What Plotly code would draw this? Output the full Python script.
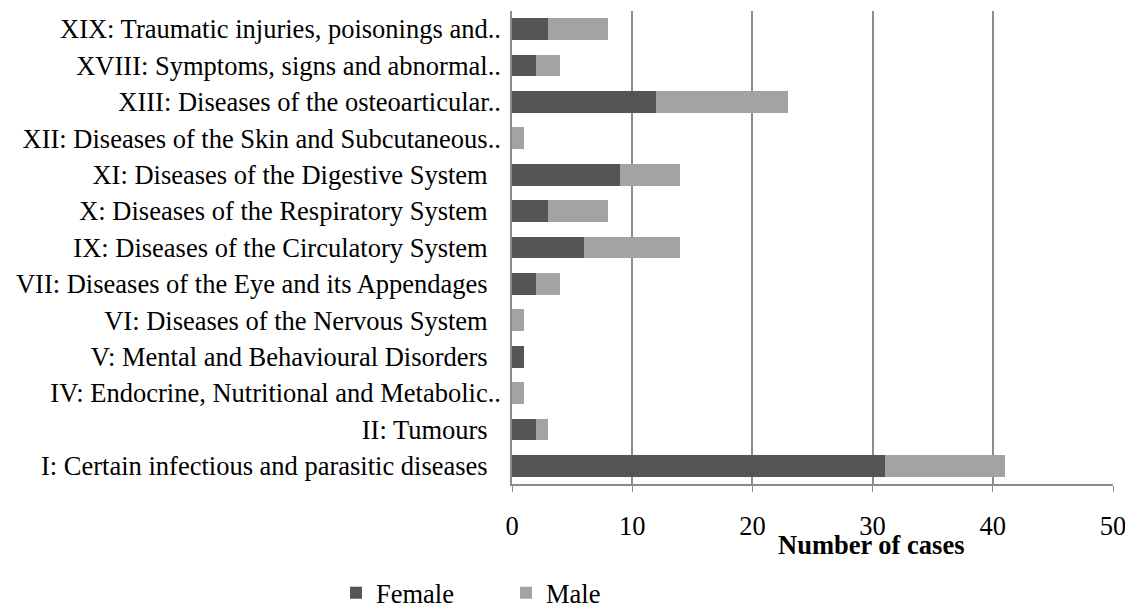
import plotly.graph_objects as go

categories = [
    "I: Certain infectious and parasitic diseases",
    "II: Tumours",
    "IV: Endocrine, Nutritional and Metabolic..",
    "V: Mental and Behavioural Disorders",
    "VI: Diseases of the Nervous System",
    "VII: Diseases of the Eye and its Appendages",
    "IX: Diseases of the Circulatory System",
    "X: Diseases of the Respiratory System",
    "XI: Diseases of the Digestive System",
    "XII: Diseases of the Skin and Subcutaneous..",
    "XIII: Diseases of the osteoarticular..",
    "XVIII: Symptoms, signs and abnormal..",
    "XIX: Traumatic injuries, poisonings and..",
]
female = [31, 2, 0, 1, 0, 2, 6, 3, 9, 0, 12, 2, 3]
male = [10, 1, 1, 0, 1, 2, 8, 5, 5, 1, 11, 2, 5]
x_ticks = [0, 10, 20, 30, 40, 50]

FONT = "Liberation Serif, Times New Roman, serif"
FS = 26.5

# page body has an 8px margin; compensate so the plot lands where the reference has it
OFF = 8
W, H = 1133 - OFF, 612 - OFF
PL, PR, PT, PB = 512, 1113.5, 11, 484

# full (non-truncated) labels sit a little further from the axis than truncated ones
ticktext = [c if c.endswith("..") else c + "\u00a0\u00a0" for c in categories]

fig = go.Figure()
fig.add_trace(go.Bar(y=categories, x=female, orientation="h", name="Female",
                     marker=dict(color="#555555", line=dict(width=0))))
fig.add_trace(go.Bar(y=categories, x=male, orientation="h", name="Male",
                     marker=dict(color="#a3a3a3", line=dict(width=0))))

fig.update_layout(
    barmode="stack",
    bargap=0.4,
    width=W, height=H,
    margin=dict(l=PL - OFF, r=W + OFF - PR, t=PT - OFF, b=H + OFF - PB, autoexpand=False),
    paper_bgcolor="white", plot_bgcolor="white",
    font=dict(family=FONT, size=FS, color="black"),
    legend=dict(orientation="h", x=(336 - OFF) / W, y=(612 - 593) / H,
                xref="container", yref="container",
                xanchor="left", yanchor="middle",
                font=dict(family=FONT, size=FS), itemwidth=30,
                traceorder="normal", entrywidth=125),
    showlegend=True,
    xaxis=dict(range=[0, 50], tickvals=x_ticks, showgrid=True,
               gridcolor="#8c8c8c", gridwidth=1.5,
               showline=True, linecolor="#8c8c8c", linewidth=1.5,
               ticks="outside", ticklen=6, tickcolor="#8c8c8c",
               ticklabelstandoff=11, zeroline=False,
               tickfont=dict(family=FONT, size=FS)),
    yaxis=dict(showline=True, linecolor="#8c8c8c", linewidth=1.5,
               ticks="", ticklabelstandoff=4,
               tickvals=categories, ticktext=ticktext,
               tickfont=dict(family=FONT, size=FS)),
    annotations=[dict(text="<b>Number of cases</b>", x=(871 - PL) / (PR - PL), xref="paper",
                      y=-(545 - PB) / (PB - PT), yref="paper", yanchor="middle",
                      showarrow=False, font=dict(family=FONT, size=FS))],
)
fig.write_html("out.html")
